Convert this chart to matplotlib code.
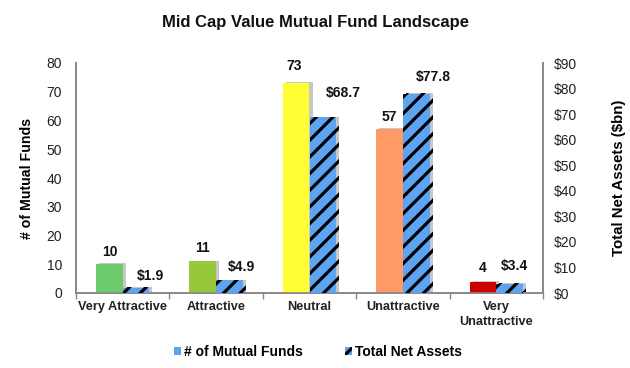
import matplotlib
matplotlib.use("Agg")
import matplotlib.pyplot as plt
import matplotlib.patheffects as pe
from matplotlib.patches import Patch
import numpy as np

plt.rcParams['font.family'] = ['Liberation Sans', 'DejaVu Sans']
plt.rcParams['hatch.linewidth'] = 2.3

categories = ["Very Attractive", "Attractive", "Neutral", "Unattractive", "Very\nUnattractive"]
fund_counts = [10, 11, 73, 57, 4]
net_assets = [1.9, 4.9, 68.7, 77.8, 3.4]
count_labels = ["10", "11", "73", "57", "4"]
asset_labels = ["$1.9", "$4.9", "$68.7", "$77.8", "$3.4"]
left_ticks = [0, 10, 20, 30, 40, 50, 60, 70, 80]
right_ticks = [0, 10, 20, 30, 40, 50, 60, 70, 80, 90]
right_tick_labels = ["$0", "$10", "$20", "$30", "$40", "$50", "$60", "$70", "$80", "$90"]

bar_colors = ["#6CCB6A", "#95C83A", "#FFFF33", "#FF9966", "#CC0000"]
stripe_color = "#5CA3F2"

fig = plt.figure(figsize=(6.3, 3.68), dpi=100)
ax = fig.add_axes([76/630, 1-293/368, (543-76)/630, (293-63)/368])
ax2 = ax.twinx()

x = np.arange(len(categories))
w = 0.285
shadow = [pe.SimplePatchShadow(offset=(2.2, 0.6), shadow_rgbFace="#999999", alpha=0.55), pe.Normal()]

b1 = ax.bar(x - w/2, fund_counts, width=w, color=bar_colors, linewidth=0, zorder=3)
for p in b1:
    p.set_path_effects(shadow)
b2 = ax2.bar(x + w/2, net_assets, width=w, color=stripe_color, edgecolor="black",
             hatch="//", linewidth=0, zorder=3)
for p in b2:
    p.set_path_effects(shadow)

ax.set_xlim(-0.5, len(categories) - 0.5)
ax.set_ylim(0, 80)
ax2.set_ylim(0, 90)
ax.set_yticks(left_ticks)
ax2.set_yticks(right_ticks)
ax2.set_yticklabels(right_tick_labels)

ax.set_xticks(x)
ax.set_xticklabels(categories, fontsize=9.2, fontweight="bold", color="#222222", linespacing=1.35)
ax.tick_params(axis="x", length=0, pad=6)
ax.set_xticks(np.arange(len(categories) + 1) - 0.5, minor=True)
ax.tick_params(axis="x", which="minor", length=4, color="#888888", width=1)
ax.tick_params(axis="y", length=0, labelsize=10, pad=10, labelcolor="#222222")
ax2.tick_params(axis="y", length=0, labelsize=10, pad=8, labelcolor="#222222")

for a in (ax, ax2):
    a.spines["top"].set_visible(False)
    for s in ("left", "right", "bottom"):
        a.spines[s].set_color("#888888")
        a.spines[s].set_linewidth(1.2)

ax.set_ylabel("# of Mutual Funds", fontsize=10.2, fontweight="bold", labelpad=9)
ax2.set_ylabel("Total Net Assets ($bn)", fontsize=10.8, fontweight="bold", labelpad=25)

count_off = [(0, 12), (0, 13), (-2, 17), (0, 12), (0, 13)]
asset_off = [(14, 12), (12, 13), (20, 24), (17, 17), (5, 18)]
px = 0.72
for i in range(len(categories)):
    ax.annotate(count_labels[i], (x[i] - w/2, fund_counts[i]),
                xytext=(count_off[i][0]*px, count_off[i][1]*px), textcoords="offset points",
                ha="center", va="center", fontsize=10, fontweight="bold", color="#111111")
    ax2.annotate(asset_labels[i], (x[i] + w/2, net_assets[i]),
                 xytext=(asset_off[i][0]*px, asset_off[i][1]*px), textcoords="offset points",
                 ha="center", va="center", fontsize=10, fontweight="bold", color="#111111")

fig.text(315/630, 1-22/368, "Mid Cap Value Mutual Fund Landscape", ha="center", va="center",
         fontsize=12, fontweight="bold", color="#111111")

handles = [Patch(facecolor=stripe_color, linewidth=0),
           Patch(facecolor=stripe_color, edgecolor="black", hatch="//", linewidth=0)]
fig.legend(handles, ["# of Mutual Funds", "Total Net Assets"], loc="center",
           bbox_to_anchor=(318/630, 1-352/368), ncol=2, frameon=False,
           handlelength=0.55, handleheight=0.55, handletextpad=0.2, columnspacing=3.0,
           prop={"weight": "bold", "size": 10})

fig.savefig("out.png", dpi=100)
